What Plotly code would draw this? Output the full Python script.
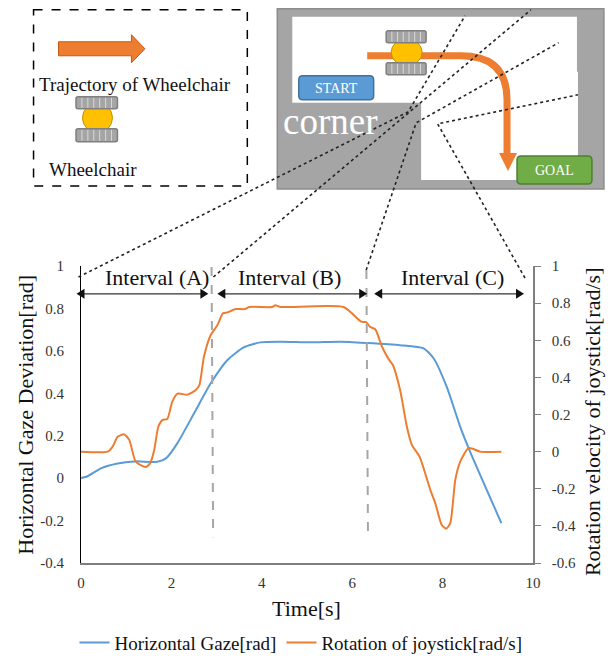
import plotly.graph_objects as go

# ---- data ----
gaze_time = [0, .147, .44, .81, 1.18, 1.69, 1.88, 2.13, 2.5, 2.87, 3.24, 3.6, 3.97, 4.42, 5.08, 5.74, 6.33, 7.06, 7.58, 7.8, 8.09, 8.39, 8.61, 9.3]
gaze_vals = [0, .009, .046, .069, .079, .077, .093, .164, .305, .447, .557, .616, .64, .643, .64, .643, .637, .627, .612, .565, .431, .242, .124, -.212]
joy_time = [0, .59, .70, .81, .956, 1.07, 1.21, 1.43, 1.53, 1.62, 1.71, 1.80, 1.91, 2.02, 2.135, 2.355, 2.54, 2.62, 2.72, 2.87, 3.02, 3.14, 3.24, 3.42, 3.63, 3.72, 4.23, 4.30, 4.42, 5.81, 6.20, 6.31, 6.39, 6.51, 6.66, 6.81, 6.90, 7.06, 7.21, 7.32, 7.49, 7.73, 7.84, 7.98, 8.08, 8.17, 8.28, 8.39, 8.57, 8.68, 8.83, 9.3]
joy_vals = [0, 0, .027, .08, .093, .062, -.054, -.083, -.062, .009, .134, .17, .176, .269, .312, .307, .332, .359, .511, .628, .682, .745, .75, .768, .768, .779, .779, .788, .779, .779, .70, .698, .673, .659, .565, .497, .467, .332, .134, .036, -.027, -.207, -.279, -.395, -.415, -.385, -.153, -.054, .019, .014, 0, 0]
x_ticks = [0, 2, 4, 6, 8, 10]
left_ticks = [-.4, -.2, 0, .2, .4, .6, .8, 1]
left_labels = ["-0.4", "-0.2", "0", "0.2", "0.4", "0.6", "0.8", "1"]
right_ticks = [-.6, -.4, -.2, 0, .2, .4, .6, .8, 1]
right_labels = ["-0.6", "-0.4", "-0.2", "0", "0.2", "0.4", "0.6", "0.8", "1"]
interval_names = ["Interval (A)", "Interval (B)", "Interval (C)"]

# ---- pixel helpers for the schematic drawn around the chart ----
W, H = 613, 656
L, R, T, B = 80.5, 533.0, 266.0, 562.7
FONT = "Liberation Serif"
def fx(p): return (p - L) / (R - L)
def fy(p): return (B - p) / (B - T)
def P(x, y): return f"{fx(x):.5f} {fy(y):.5f}"
shapes = []
def add(**k): shapes.append(dict(xref="paper", yref="paper", layer="above", **k))
def rect(x0, y0, x1, y1, fill, line="rgba(0,0,0,0)", w=1, dash="solid"):
    add(type="rect", x0=fx(x0), x1=fx(x1), y0=fy(y0), y1=fy(y1), fillcolor=fill, line=dict(color=line, width=w, dash=dash))
def poly(pts, fill, line="rgba(0,0,0,0)", w=1):
    add(type="path", path="M " + " L ".join(P(*p) for p in pts) + " Z", fillcolor=fill, line=dict(color=line, width=w))
def seg(pts, color, w, dash="solid"):
    add(type="path", path="M " + " L ".join(P(*p) for p in pts), line=dict(color=color, width=w, dash=dash))
def rrect(x0, y0, x1, y1, r, fill, line):
    path = (f"M {P(x0+r,y0)} L {P(x1-r,y0)} Q {P(x1,y0)} {P(x1,y0+r)} L {P(x1,y1-r)} Q {P(x1,y1)} {P(x1-r,y1)} "
            f"L {P(x0+r,y1)} Q {P(x0,y1)} {P(x0,y1-r)} L {P(x0,y0+r)} Q {P(x0,y0)} {P(x0+r,y0)} Z")
    add(type="path", path=path, fillcolor=fill, line=dict(color=line, width=1.5))
def wheel(x0, y0, x1, y1):
    rrect(x0, y0, x1, y1, 2, "#A5A5A5", "#7F7F7F")
    n = 7
    for i in range(1, n):
        x = x0 + (x1 - x0) * i / n
        seg([(x, y0 + 1), (x, y1 - 1)], "#D9D9D9", 1)
def chair(x0, x1, wt0, wt1, wb0, wb1, bx0, bx1, by0, by1):
    add(type="circle", x0=fx(bx0), x1=fx(bx1), y0=fy(by0), y1=fy(by1), fillcolor="#FFC000", line=dict(color="#BF9000", width=1))
    wheel(x0, wt0, x1, wt1)
    wheel(x0, wb0, x1, wb1)

# key box
rect(33, 10, 247, 186, "white", "black", 1.5, "dash")
poly([(58, 42), (131, 42), (131, 35), (144.5, 49), (131, 63), (131, 56), (58, 56)], "#ED7D31", "#C55A11", 1)
chair(75.5, 117, 97, 109, 129, 142, 82, 112, 103, 133)

# map
rect(277, 9, 604, 189, "#A5A5A5", "#8C8C8C", 1.5)
rect(292, 17, 577, 103, "white")
rect(421, 72, 578, 180, "white")
rrect(298.5, 76, 373.5, 100, 4, "#5B9BD5", "#41719C")
add(type="path", path=f"M {P(367,56)} L {P(461,56)} Q {P(507,56)} {P(507,100)} L {P(507,153)}", line=dict(color="#ED7D31", width=7))
poly([(499, 153), (517, 153), (508, 171)], "#ED7D31")
chair(386, 426, 31, 43, 63, 75, 391, 422, 39, 66)
rrect(517, 156, 592, 184, 4, "#70AD47", "#507E32")

# dotted sight lines
DOT = "#222222"
seg([(78, 277), (408, 112), (465, 16)], DOT, 1.6, "dot")
seg([(213, 277), (531, 10)], DOT, 1.6, "dot")
seg([(366, 270), (416, 123), (558.6, 43)], DOT, 1.6, "dot")
seg([(525, 278), (437.5, 124), (578, 95)], DOT, 1.6, "dot")

# interval markers
for xv, y0 in ((212, 267), (367, 270)):
    seg([(xv - .8, y0), (xv + .8, 537)], "#A6A6A6", 2, "dash")
ARROW_Y = 293.8
for a, b in ((76, 208), (217, 367), (374, 524)):
    seg([(a + 4, ARROW_Y), (b - 4, ARROW_Y)], "#333333", 1.3)
    poly([(a, ARROW_Y), (a + 8, ARROW_Y - 5), (a + 8, ARROW_Y + 5)], "#111111")
    poly([(b, ARROW_Y), (b - 8, ARROW_Y - 5), (b - 8, ARROW_Y + 5)], "#111111")

def note(text, x, y, size, color="#111111", angle=0):
    return dict(text=text, x=fx(x), y=fy(y), xref="paper", yref="paper", showarrow=False, xanchor="center", yanchor="middle",
                textangle=angle, font=dict(family=FONT, size=size, color=color))
annotations = [
    note("Trajectory of Wheelchair", 134.5, 85, 19),
    note("Wheelchair", 92.5, 170, 19),
    note("START", 336, 89, 14, "white"),
    note("GOAL", 555, 171, 14, "white"),
    note("corner", 330, 122, 37, "white"),
    note(interval_names[0], 156.5, 277, 22),
    note(interval_names[1], 289, 277, 22),
    note(interval_names[2], 452, 277, 22),
    note("Time[s]", 306.5, 608, 22),
    note("Horizontal Gaze Deviation[rad]", 25, 415, 22, angle=-90),
    note("Rotation velocity of joystick[rad/s]", 592, 421, 22, angle=-90),
]

fig = go.Figure()
fig.add_trace(go.Scatter(x=gaze_time, y=gaze_vals, mode="lines", name="Horizontal Gaze[rad]", yaxis="y",
                         line=dict(color="#5B9BD5", width=2, shape="spline", smoothing=0.6)))
fig.add_trace(go.Scatter(x=joy_time, y=joy_vals, mode="lines", name="Rotation of joystick[rad/s]", yaxis="y2",
                         line=dict(color="#ED7D31", width=2, shape="spline", smoothing=0.6)))
fig.update_layout(
    width=W, height=H, autosize=False, paper_bgcolor="white", plot_bgcolor="white",
    margin=dict(l=L, r=W - R, t=T, b=H - B, pad=0),
    font=dict(family=FONT, color="#222222", size=15),
    shapes=shapes, annotations=annotations,
    xaxis=dict(range=[0, 10], tickvals=x_ticks, ticktext=[str(v) for v in x_ticks], showgrid=False, zeroline=False,
               showline=True, linecolor="#7F7F7F", linewidth=1.5, ticks="", ticklabelstandoff=5, automargin=False,
               tickfont=dict(size=15, color="#333333")),
    yaxis=dict(range=[-.4, 1], tickvals=left_ticks, ticktext=left_labels, showgrid=False, zeroline=False,
               showline=True, linecolor="black", linewidth=1.2, ticks="", ticklabelstandoff=13, automargin=False,
               tickfont=dict(size=15, color="#333333")),
    yaxis2=dict(range=[-.6, 1], tickvals=right_ticks, ticktext=right_labels, overlaying="y", side="right",
                showgrid=False, zeroline=False, showline=True, linecolor="#7F7F7F", linewidth=1.5, automargin=False,
                ticks="outside", ticklen=6, tickcolor="#7F7F7F", ticklabelstandoff=8,
                tickfont=dict(size=15, color="#333333")),
    legend=dict(orientation="h", xref="container", yref="container", x=301 / W, y=1 - 642.7 / H, xanchor="center", yanchor="middle",
                font=dict(size=19, color="#111111"), itemwidth=30, bgcolor="rgba(0,0,0,0)", traceorder="normal"),
)
fig.write_html("out.html", config=dict(displayModeBar=False),
               post_script="document.body.style.margin='0';document.documentElement.style.overflow='hidden';")
